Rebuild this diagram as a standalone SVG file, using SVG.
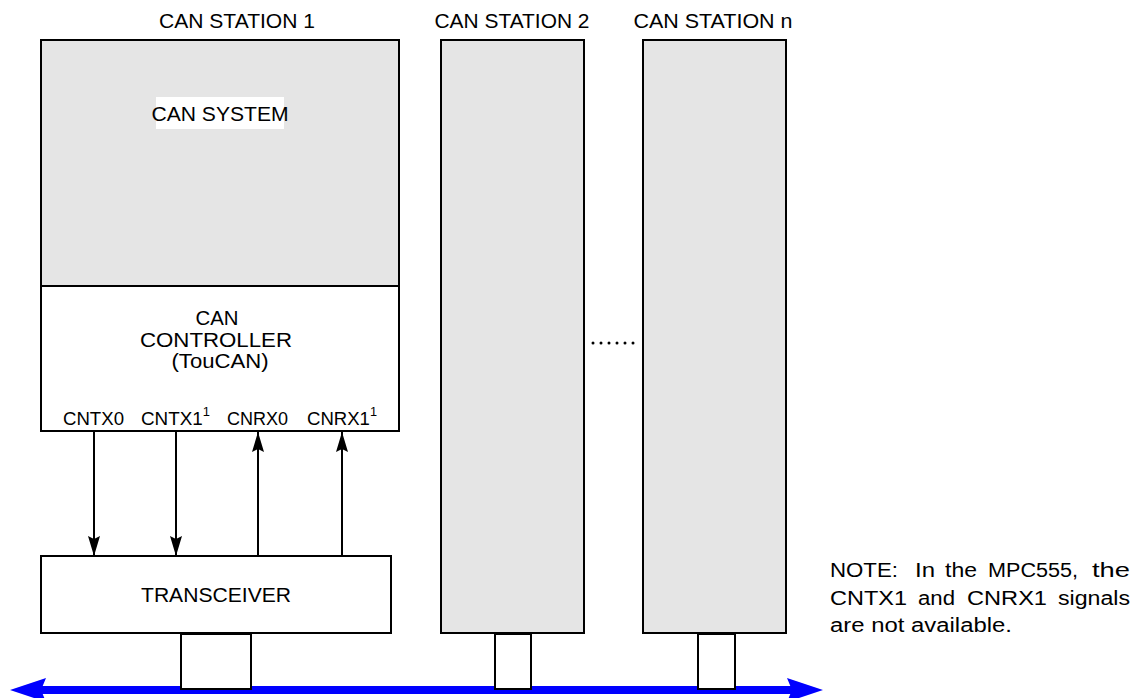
<svg xmlns="http://www.w3.org/2000/svg" width="1136" height="698" viewBox="0 0 1136 698">
<style>
text{font-family:"Liberation Sans",Arial,sans-serif;fill:#000;}
.t{font-size:20px;text-anchor:middle;}
.s{font-size:19px;}
.n{font-size:20px;}
.sup{font-size:13px;}
.box{stroke:#000;stroke-width:2;}
.grey{fill:#e5e5e5;}
.white{fill:#fff;}
.sig{stroke:#000;stroke-width:2;fill:none;}
</style>
<defs>
<marker id="ah" markerUnits="userSpaceOnUse" markerWidth="20" markerHeight="12" viewBox="0 0 20 12" refX="20" refY="6" orient="auto">
<path d="M0,0 L20,6 L0,12 L3,6 Z" fill="#000"/>
</marker>
</defs>
<rect width="1136" height="698" fill="#fff"/>

<g id="labels">
<text class="t" x="237" y="28" textLength="156" lengthAdjust="spacingAndGlyphs">CAN STATION 1</text>
<text class="t" x="512" y="28" textLength="155" lengthAdjust="spacingAndGlyphs">CAN STATION 2</text>
<text class="t" x="713" y="28" textLength="159" lengthAdjust="spacingAndGlyphs">CAN STATION n</text>
</g>

<g id="bus">
<line x1="40" y1="690" x2="792" y2="690" stroke="#0000ff" stroke-width="8"/>
<polygon points="10,690 46,678 41,690 46,702" fill="#0000ff"/>
<polygon points="823,690 787,678 792,690 787,702" fill="#0000ff"/>
</g>

<g id="station1">
<rect class="box grey" x="41" y="40" width="358" height="246"/>
<rect x="156" y="97" width="128" height="32" fill="#fff"/>
<text class="t" x="220" y="121" textLength="137" lengthAdjust="spacingAndGlyphs" style="font-size:21px">CAN SYSTEM</text>
</g>

<g id="controller">
<rect class="box white" x="41" y="286" width="358" height="145"/>
<text class="t" x="217" y="325" textLength="43" lengthAdjust="spacingAndGlyphs">CAN</text>
<text class="t" x="216" y="347" textLength="152" lengthAdjust="spacingAndGlyphs">CONTROLLER</text>
<text class="t" x="220" y="368" textLength="97" lengthAdjust="spacingAndGlyphs">(TouCAN)</text>
<text class="s" x="63" y="425" textLength="61" lengthAdjust="spacingAndGlyphs">CNTX0</text>
<text class="s" x="141" y="425" textLength="69" lengthAdjust="spacingAndGlyphs">CNTX1<tspan class="sup" dy="-9">1</tspan></text>
<text class="s" x="227" y="425" textLength="61" lengthAdjust="spacingAndGlyphs">CNRX0</text>
<text class="s" x="307" y="425" textLength="70" lengthAdjust="spacingAndGlyphs">CNRX1<tspan class="sup" dy="-9">1</tspan></text>
</g>

<g id="transceiver">
<rect class="box white" x="41" y="556" width="350" height="77"/>
<text class="t" x="216" y="602" textLength="150" lengthAdjust="spacingAndGlyphs">TRANSCEIVER</text>
<rect class="box white" x="181" y="634" width="70" height="55"/>
</g>

<g id="station2">
<rect class="box grey" x="441" y="40" width="143" height="593"/>
<rect class="box white" x="495" y="634" width="36" height="55"/>
</g>

<g id="stationn">
<rect class="box grey" x="643" y="40" width="143" height="593"/>
<rect class="box white" x="698" y="634" width="37" height="55"/>
</g>

<g id="ellipsis" fill="#000">
<circle cx="593" cy="343" r="1.5"/>
<circle cx="601" cy="343" r="1.5"/>
<circle cx="609" cy="343" r="1.5"/>
<circle cx="617" cy="343" r="1.5"/>
<circle cx="625" cy="343" r="1.5"/>
<circle cx="633" cy="343" r="1.5"/>
</g>

<g id="connectors">
<line class="sig" x1="94" y1="432" x2="94" y2="556" marker-end="url(#ah)"/>
<line class="sig" x1="176" y1="432" x2="176" y2="556" marker-end="url(#ah)"/>
<line class="sig" x1="258" y1="555" x2="258" y2="432" marker-end="url(#ah)"/>
<line class="sig" x1="342" y1="555" x2="342" y2="432" marker-end="url(#ah)"/>
</g>

<g id="note">
<text class="n" x="830" y="577" textLength="68" lengthAdjust="spacingAndGlyphs">NOTE:</text>
<text class="n" x="915" y="577" textLength="20" lengthAdjust="spacingAndGlyphs">In</text>
<text class="n" x="945" y="577" textLength="32" lengthAdjust="spacingAndGlyphs">the</text>
<text class="n" x="988" y="577" textLength="90" lengthAdjust="spacingAndGlyphs">MPC555,</text>
<text class="n" x="1092" y="577" textLength="38" lengthAdjust="spacingAndGlyphs">the</text>
<text class="n" x="830" y="605" textLength="77" lengthAdjust="spacingAndGlyphs">CNTX1</text>
<text class="n" x="918" y="605" textLength="37" lengthAdjust="spacingAndGlyphs">and</text>
<text class="n" x="967" y="605" textLength="80" lengthAdjust="spacingAndGlyphs">CNRX1</text>
<text class="n" x="1058" y="605" textLength="72" lengthAdjust="spacingAndGlyphs">signals</text>
<text class="n" x="830" y="632" textLength="182" lengthAdjust="spacingAndGlyphs">are not available.</text>
</g>
</svg>
